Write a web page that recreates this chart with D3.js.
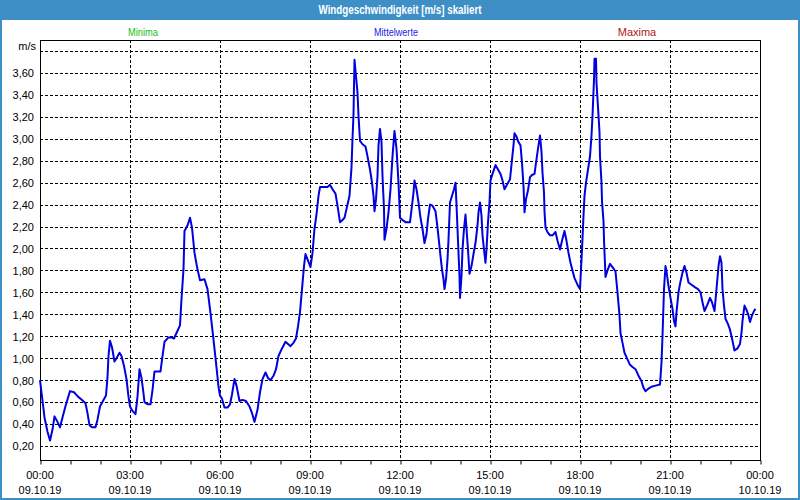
<!DOCTYPE html>
<html><head><meta charset="utf-8">
<script src="https://cdn.jsdelivr.net/npm/d3@7"></script>
<style>
html,body{margin:0;padding:0;background:#fff;}
svg{display:block;font-family:"Liberation Sans",Arial,sans-serif;}
.narrow{font-family:"Liberation Sans Narrow","Arial Narrow","Liberation Sans",sans-serif;}
</style></head>
<body>
<svg id="c" width="800" height="500"></svg>
<script>
// Data: minutes since 09.10.19 00:00 and mean wind speed [m/s]
const minutes = [0,4,9,15,20,25,29,35,40,45,52,60,68,76,84,91,95,99,104,111,115,120,127,132,135,137,140,144,149,153,159,163,168,173,177,180,185,191,195,199,203,207,209,215,221,225,229,237,241,245,249,257,263,268,273,280,283,287,289,295,300,304,309,315,320,329,335,341,347,352,357,
360,364,369,375,380,384,389,393,399,405,412,419,424,429,435,440,445,451,456,461,467,472,477,483,491,496,501,507,512,516,520,524,528,531,536,541,545,549,553,557,560,568,575,580,585,591,595,600,605,609,613,619,623,625,627,628,629,632,635,637,640,645,651,655,660,664,667,669,672,675,677,680,683,685,688,689,693,697,701,705,709,713,717,720,
725,731,740,744,747,749,753,757,761,765,769,773,776,780,785,791,795,799,801,804,807,809,812,815,817,820,824,828,831,833,835,837,839,840,843,845,848,851,853,856,859,863,867,871,875,877,880,883,885,888,891,893,896,899,901,905,911,916,921,925,929,935,940,944,947,949,953,957,961,964,967,969,972,976,980,984,989,992,996,1000,1003,1005,1008,1009,1011,1015,1020,1025,1031,1035,1040,1044,1049,1053,1057,1061,1065,1069,1075,1080,
1084,1087,1089,1092,1096,1100,1103,1105,1108,1109,1112,1113,1116,1119,1120,1123,1124,1127,1128,1131,1135,1140,1145,1151,1155,1159,1161,1165,1169,1175,1180,1185,1191,1196,1203,1207,1211,1216,1223,1231,1240,1243,1245,1248,1251,1253,1257,1261,1265,1268,1271,1273,1277,1281,1285,1289,1293,1297,1303,1309,1316,1321,1325,1329,1335,1340,1344,1349,1353,1357,1360,1363,1365,1368,1371,1376,1380,1384,1389,1395,1400,1403,1405,1409,1413,1417,1420,1424,1428,1431];
const values = [0.80,0.65,0.46,0.33,0.25,0.35,0.47,0.42,0.37,0.46,0.58,0.70,0.69,0.65,0.62,0.59,0.50,0.39,0.37,0.37,0.44,0.56,0.62,0.66,0.83,1.02,1.16,1.10,0.97,1.00,1.05,1.02,0.93,0.81,0.65,0.56,0.52,0.49,0.65,0.90,0.82,0.68,0.60,0.58,0.58,0.71,0.88,0.88,0.88,1.02,1.15,1.19,1.19,1.18,1.23,1.30,1.54,1.81,2.16,2.21,2.28,2.19,1.96,1.81,1.71,1.72,1.63,1.41,1.17,0.96,0.74,
0.66,0.63,0.55,0.55,0.58,0.67,0.81,0.75,0.61,0.62,0.61,0.56,0.50,0.42,0.53,0.69,0.81,0.87,0.82,0.80,0.84,0.90,1.02,1.08,1.15,1.13,1.11,1.14,1.18,1.29,1.42,1.63,1.84,1.95,1.89,1.83,1.96,2.18,2.31,2.48,2.56,2.56,2.56,2.58,2.54,2.50,2.39,2.24,2.26,2.28,2.36,2.48,2.74,3.00,3.22,3.48,3.72,3.57,3.42,3.21,2.98,2.95,2.93,2.84,2.72,2.60,2.48,2.34,2.45,2.66,2.94,3.09,2.97,2.66,2.36,2.08,2.18,2.33,2.54,2.84,3.07,2.91,2.60,2.28,
2.26,2.24,2.24,2.39,2.51,2.62,2.54,2.42,2.28,2.18,2.05,2.13,2.27,2.40,2.39,2.34,2.19,2.02,1.93,1.81,1.72,1.63,1.72,1.90,2.08,2.42,2.48,2.54,2.60,2.40,2.18,1.96,1.75,1.55,1.75,1.99,2.18,2.31,2.18,1.99,1.77,1.84,1.95,2.05,2.21,2.33,2.42,2.30,2.12,1.99,1.87,1.99,2.24,2.42,2.62,2.68,2.76,2.72,2.68,2.62,2.54,2.59,2.63,2.81,2.94,3.05,3.02,2.97,2.94,2.78,2.57,2.33,2.45,2.53,2.65,2.67,2.68,2.78,2.91,3.03,2.88,2.69,2.51,2.34,2.19,2.15,2.12,2.12,2.15,2.07,1.99,2.07,2.16,2.07,1.96,1.87,1.80,1.73,1.67,1.63,
1.99,2.30,2.48,2.60,2.72,2.84,3.03,3.21,3.54,3.73,3.73,3.51,3.29,3.06,2.84,2.60,2.43,2.25,2.08,1.74,1.80,1.86,1.83,1.79,1.60,1.39,1.23,1.14,1.05,0.99,0.94,0.92,0.90,0.85,0.79,0.73,0.70,0.72,0.74,0.75,0.76,0.96,1.20,1.63,1.84,1.79,1.66,1.55,1.45,1.34,1.29,1.42,1.60,1.70,1.78,1.84,1.78,1.69,1.67,1.65,1.63,1.60,1.51,1.43,1.49,1.55,1.51,1.43,1.63,1.84,1.93,1.87,1.63,1.48,1.36,1.31,1.26,1.18,1.07,1.09,1.13,1.23,1.34,1.48,1.44,1.39,1.33,1.39,1.43,1.45];

const yTicks = [0.2,0.4,0.6,0.8,1.0,1.2,1.4,1.6,1.8,2.0,2.2,2.4,2.6,2.8,3.0,3.2,3.4,3.6];
const yGrid = [0.2,0.4,0.6,0.8,1.0,1.2,1.4,1.6,1.8,2.0,2.2,2.4,2.6,2.8,3.0,3.2,3.4,3.6,3.8];
const xTickHours = [0,3,6,9,12,15,18,21,24];
const xTimeLabels = ["00:00","03:00","06:00","09:00","12:00","15:00","18:00","21:00","00:00"];
const xDateLabels = ["09.10.19","09.10.19","09.10.19","09.10.19","09.10.19","09.10.19","09.10.19","09.10.19","10.10.19"];
const legendItems = ["Minima","Mittelwerte","Maxima"];
const legendColors = ["#22bb22","#2222dd","#b01515"];
const title = "Windgeschwindigkeit [m/s] skaliert";

const svg = d3.select("#c");
const L = 40, R = 760, T = 40, B = 460;
const t0 = new Date(2019, 9, 9, 0, 0);
const t1 = new Date(2019, 9, 10, 0, 0);
const x = d3.scaleTime().domain([t0, t1]).range([L, R]);
const y = d3.scaleLinear().domain([0.2, 3.8]).range([446, 51]);
const hourDate = h => new Date(t0.getTime() + h * 3600000);

// fit narrow text if the narrow face is missing
function fit(sel, w){
  const n = sel.node();
  const len = n.getComputedTextLength();
  if (len > w * 1.08) sel.attr("textLength", w).attr("lengthAdjust","spacingAndGlyphs");
}

// window frame + title bar
svg.append("rect").attr("x",0).attr("y",0).attr("width",800).attr("height",500).attr("fill","#3d8fc6");
svg.append("rect").attr("x",2).attr("y",20).attr("width",796).attr("height",478).attr("fill","#ffffff");
const tt = svg.append("text").attr("class","narrow").attr("x",400).attr("y",14).attr("text-anchor","middle")
  .attr("fill","#ffffff").attr("font-weight","bold").attr("font-size",12).text(title);
fit(tt, 163);

// legend
const legendX = [143, 396, 637];
const legendW = [30, 44, 36];
legendItems.forEach((s,i)=>{
  const t = svg.append("text").attr("class","narrow").attr("x",legendX[i]).attr("y",36).attr("text-anchor","middle")
    .attr("font-size",11).attr("fill",legendColors[i]).text(s);
  fit(t, legendW[i]);
});

// grid
const g = svg.append("g");
g.selectAll("line.h").data(yGrid).join("line")
  .attr("x1",L).attr("x2",R).attr("y1",d=>Math.round(y(d))+0.5).attr("y2",d=>Math.round(y(d))+0.5)
  .attr("stroke","#000").attr("stroke-width",1).attr("stroke-dasharray","3,2");
g.selectAll("line.v").data(xTickHours.slice(1,-1)).join("line")
  .attr("x1",d=>Math.round(x(hourDate(d)))+0.5).attr("x2",d=>Math.round(x(hourDate(d)))+0.5)
  .attr("y1",T).attr("y2",B)
  .attr("stroke","#000").attr("stroke-width",1).attr("stroke-dasharray","3,2");

// frame
svg.append("rect").attr("x",L+0.5).attr("y",T+0.5).attr("width",R-L).attr("height",B-T)
  .attr("fill","none").attr("stroke","#000").attr("stroke-width",1);

// x axis minor ticks (hourly) and labels
const xAxis = d3.axisBottom(x).ticks(d3.timeHour.every(1)).tickSize(4).tickFormat("");
const ax = svg.append("g").attr("transform",`translate(0.5,${B+0.5})`).call(xAxis);
ax.select(".domain").remove();
ax.selectAll("line").attr("stroke","#000");
xTickHours.forEach((h,i)=>{
  const px = x(hourDate(h));
  svg.append("text").attr("x",px).attr("y",479).attr("text-anchor","middle").attr("font-size",11).attr("fill","#000").text(xTimeLabels[i]);
  svg.append("text").attr("x",px).attr("y",494).attr("text-anchor","middle").attr("font-size",11).attr("fill","#000").text(xDateLabels[i]);
});

// y labels
const yAxis = d3.axisLeft(y).tickValues(yTicks).tickSize(0).tickFormat(d=>d3.format(".2f")(d).replace(".",","));
const ay = svg.append("g").attr("transform",`translate(${L-3},0)`).call(yAxis);
ay.select(".domain").remove();
ay.selectAll("text").attr("font-size",11).attr("font-family","Liberation Sans, Arial, sans-serif").attr("fill","#000").attr("dy","0.35em");
svg.append("text").attr("x",36).attr("y",50).attr("text-anchor","end").attr("font-size",11).attr("fill","#000").text("m/s");

// series line
const pts = minutes.map((m,i)=>[new Date(t0.getTime()+m*60000), values[i]]);
const line = d3.line().x(d=>x(d[0])).y(d=>y(d[1]));
svg.append("path").datum(pts).attr("d",line).attr("fill","none")
  .attr("stroke","#0000e0").attr("stroke-width",2).attr("stroke-linejoin","round");
</script>
</body></html>
